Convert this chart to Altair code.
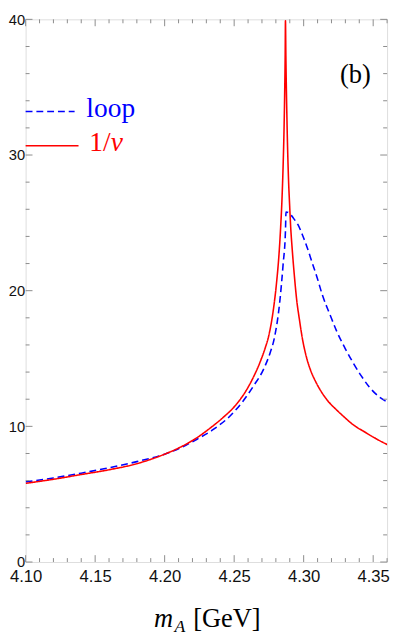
import altair as alt
import pandas as pd

# 1/v curve (red, solid)
red_x = [4.100, 4.120, 4.140, 4.160, 4.180, 4.200, 4.210, 4.2233, 4.2327, 4.2420,
         4.2514, 4.2584, 4.2642, 4.2689, 4.2724, 4.2747, 4.2782, 4.2806, 4.2822, 4.2834,
         4.2845, 4.2853, 4.2859, 4.2864, 4.2867, 4.2869, 4.2872, 4.2880, 4.2890, 4.2899,
         4.2906, 4.2918, 4.2934, 4.2950, 4.2969, 4.2992, 4.3020, 4.3051, 4.3086, 4.3121,
         4.3168, 4.3238, 4.3285, 4.3355, 4.3448, 4.3542, 4.3605]
red_y = [5.8, 6.1, 6.45, 6.8, 7.25, 7.95, 8.4, 9.17, 9.87, 10.65,
         11.6, 12.6, 13.7, 14.8, 15.8, 16.6, 18.6, 20.7, 22.6, 24.6,
         27.0, 29.5, 32.0, 35.0, 37.4, 39.9, 37.3, 32.5, 28.5, 26.3,
         24.8, 23.0, 21.0, 19.3, 17.9, 16.4, 15.1, 14.1, 13.3, 12.65,
         11.95, 11.2, 10.75, 10.13, 9.53, 8.97, 8.64]

# loop curve (blue, dashed)
blue_x = [4.100, 4.120, 4.140, 4.160, 4.180, 4.200, 4.210, 4.2233, 4.2350, 4.2467,
          4.2561, 4.2642, 4.2712, 4.2759, 4.2789, 4.2829, 4.2852, 4.2869, 4.2873, 4.2890,
          4.2911, 4.2935, 4.2957, 4.2992, 4.3027, 4.3062, 4.3097, 4.3132, 4.3191, 4.3238,
          4.3296, 4.3355, 4.3413, 4.3472, 4.3542, 4.3605]
blue_y = [5.9, 6.2, 6.55, 6.95, 7.4, 7.95, 8.35, 9.05, 9.77, 10.73,
          11.82, 13.02, 14.22, 15.43, 16.5, 19.28, 21.93, 24.4, 25.8, 25.75,
          25.55, 25.22, 24.9, 24.09, 23.13, 22.04, 20.96, 19.76, 18.19, 17.0,
          15.79, 14.7, 13.74, 12.9, 12.18, 11.77]

series_names = ["loop", "1/v"]
series_colors = ["#0000ff", "#ff0000"]

x_major = [4.10, 4.15, 4.20, 4.25, 4.30, 4.35]
x_minor = [4.11, 4.12, 4.13, 4.14, 4.16, 4.17, 4.18, 4.19, 4.21, 4.22, 4.23, 4.24,
           4.26, 4.27, 4.28, 4.29, 4.31, 4.32, 4.33, 4.34, 4.36]
y_major = [0, 10, 20, 30, 40]
y_minor = [2, 4, 6, 8, 12, 14, 16, 18, 22, 24, 26, 28, 32, 34, 36, 38]

W, H = 369, 554
FRAME = "#8a8a8a"
MAJ, MIN = 7, 4

df = pd.concat([
    pd.DataFrame({"x": blue_x, "y": blue_y, "series": "loop", "idx": range(len(blue_x))}),
    pd.DataFrame({"x": red_x, "y": red_y, "series": "1/v", "idx": range(len(red_x))}),
])

xs = alt.Scale(domain=[4.10, 4.36], nice=False, zero=False)
ys = alt.Scale(domain=[0, 40], nice=False, zero=False)

x_axis = alt.Axis(values=x_major, format=".2f", ticks=False, grid=False, domain=False,
                  labelFont="Liberation Sans", labelFontSize=17, labelColor="#111",
                  labelPadding=7, labelFlush=False, title=None)
y_axis = alt.Axis(values=y_major, format="d", ticks=False, grid=False, domain=False,
                  labelFont="Liberation Sans", labelFontSize=15, labelColor="#111",
                  labelPadding=1, labelFlush=False, title=None)

lines = alt.Chart(df).mark_line(strokeWidth=1.6, clip=True, interpolate="monotone").encode(
    x=alt.X("x:Q", scale=xs, axis=x_axis),
    y=alt.Y("y:Q", scale=ys, axis=y_axis),
    color=alt.Color("series:N", scale=alt.Scale(domain=series_names, range=series_colors), legend=None),
    strokeDash=alt.StrokeDash("series:N", scale=alt.Scale(domain=series_names, range=[[7, 4], [1, 0]]), legend=None),
    order="idx:Q",
)

def xticks(vals, y0, y1):
    return alt.Chart(pd.DataFrame({"x": vals})).mark_rule(color=FRAME, strokeWidth=1).encode(
        x=alt.X("x:Q", scale=xs, axis=x_axis), y=alt.value(y0), y2=alt.value(y1))

def yticks(vals, x0, x1):
    return alt.Chart(pd.DataFrame({"y": vals})).mark_rule(color=FRAME, strokeWidth=1).encode(
        y=alt.Y("y:Q", scale=ys, axis=y_axis), x=alt.value(x0), x2=alt.value(x1))

ticks = [
    xticks(x_major, H, H - MAJ), xticks(x_minor, H, H - MIN),
    xticks(x_major, 0, MAJ), xticks(x_minor, 0, MIN),
    yticks(y_major, 0, MAJ), yticks(y_minor, 0, MIN),
    yticks(y_major, W, W - MAJ), yticks(y_minor, W, W - MIN),
]

one = pd.DataFrame({"a": [0]})

leg_loop = alt.Chart(one).mark_rule(color="#0000ff", strokeWidth=1.6, strokeDash=[7, 4]).encode(
    x=alt.value(0), x2=alt.value(50), y=alt.value(94))
leg_red = alt.Chart(one).mark_rule(color="#ff0000", strokeWidth=1.6).encode(
    x=alt.value(0), x2=alt.value(54), y=alt.value(129))

def txt(s, x, y, size=28, color="black", style="normal"):
    return alt.Chart(one).mark_text(
        align="left", baseline="alphabetic", font="Liberation Serif",
        fontSize=size, color=color, fontStyle=style).encode(
        x=alt.value(x), y=alt.value(y), text=alt.value(s))

texts = [
    txt("loop", 62, 100, color="#0000ff"),
    txt("1/", 65, 134, color="#ff0000"),
    txt("v", 87, 134, color="#ff0000", style="italic"),
    txt("(b)", 321, 65, size=27),
    txt("m", 131, 620, size=27, style="italic"),
    txt("A", 152, 625, size=18, style="italic"),
    txt("[GeV]", 171, 620, size=27),
]

chart = alt.layer(lines, *ticks, leg_loop, leg_red, *texts).properties(
    width=W, height=H,
    autosize=alt.AutoSizeParams(type="none"),
    padding={"left": 18, "top": 5, "right": 4, "bottom": 72},
).configure_view(stroke=FRAME, strokeWidth=1).configure(background="white")

chart.save("out.html", embed_options={"renderer": "svg", "actions": False})
